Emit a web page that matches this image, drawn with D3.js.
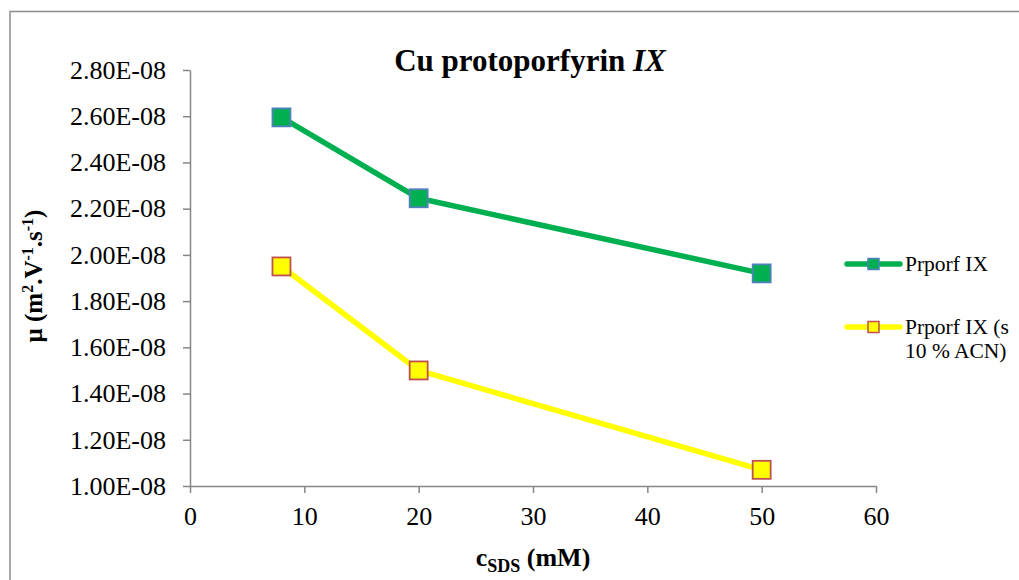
<!DOCTYPE html>
<html><head><meta charset="utf-8">
<script src="https://cdn.jsdelivr.net/npm/d3@7"></script>
<style>body{margin:0;background:#fff}svg{display:block}text{font-family:"Liberation Serif","Times New Roman",serif}</style>
</head><body>
<svg id="c" width="1019" height="580"></svg>
<script>
const xValues = [8, 20, 50];
const seriesGreen = [2.595e-8, 2.245e-8, 1.92e-8];
const seriesYellow = [1.95e-8, 1.50e-8, 1.07e-8];
const yTicks = [1.0e-8,1.2e-8,1.4e-8,1.6e-8,1.8e-8,2.0e-8,2.2e-8,2.4e-8,2.6e-8,2.8e-8];
const xTicks = [0,10,20,30,40,50,60];
const seriesNames = ["Prporf IX", "Prporf IX (s|10 % ACN)"];

const svg = d3.select("#c");
// outer chart border (top & left visible)
svg.append("path").attr("d","M10,1000V11.5H1019").attr("fill","none").attr("stroke","#8c8c8c").attr("stroke-width",1.5);

const x = d3.scaleLinear().domain([0,60]).range([190,876]);
const y = d3.scaleLinear().domain([1.0e-8,2.8e-8]).range([486,70]);

const fmt = v => (v*1e8).toFixed(2)+"E-08";
const gy = svg.append("g").attr("transform","translate(190,0)")
  .call(d3.axisLeft(y).tickValues(yTicks).tickFormat(fmt).tickSize(7).tickSizeOuter(0).tickPadding(17));
const gx = svg.append("g").attr("transform","translate(0,486)")
  .call(d3.axisBottom(x).tickValues(xTicks).tickSize(7).tickSizeOuter(0).tickPadding(14));
[gx,gy].forEach(g=>{
  g.selectAll("path,line").attr("stroke","#868686").attr("stroke-width",1.5);
  g.selectAll("text").attr("font-family","Liberation Serif").attr("font-size",26).attr("fill","#000");
});

const line = d3.line().x((d,i)=>x(xValues[i])).y(d=>y(d));
const series = [
  {vals: seriesGreen, stroke:"#00B050", fill:"#00B050", mstroke:"#4F81BD"},
  {vals: seriesYellow, stroke:"#FFFF00", fill:"#FFFF00", mstroke:"#C0504D"}
];
series.forEach(s=>{
  svg.append("path").datum(s.vals).attr("d",line).attr("fill","none")
    .attr("stroke",s.stroke).attr("stroke-width",5.5).attr("stroke-linejoin","round");
  svg.selectAll(null).data(s.vals).enter().append("rect")
    .attr("x",(d,i)=>x(xValues[i])-9).attr("y",d=>y(d)-9).attr("width",18).attr("height",18)
    .attr("fill",s.fill).attr("stroke",s.mstroke).attr("stroke-width",1.8);
});

// title
const t = svg.append("text").attr("x",530).attr("y",71).attr("text-anchor","middle")
  .attr("font-size",31).attr("font-weight","bold");
t.append("tspan").text("Cu protoporfyrin ");
t.append("tspan").attr("font-style","italic").text("IX");

// x label
const xl = svg.append("text").attr("x",533).attr("y",566).attr("text-anchor","middle")
  .attr("font-size",26).attr("font-weight","bold");
xl.append("tspan").text("c");
xl.append("tspan").attr("font-size",18).attr("dy",6).text("SDS");
xl.append("tspan").attr("dy",-6).text(" (mM)");

// y label
const yl = svg.append("text").attr("transform","translate(42,276) rotate(-90)").attr("text-anchor","middle")
  .attr("font-size",25).attr("font-weight","bold");
yl.append("tspan").text("μ (m");
yl.append("tspan").attr("font-size",16).attr("dy",-9).text("2");
yl.append("tspan").attr("dy",9).text(".V");
yl.append("tspan").attr("font-size",16).attr("dy",-9).text("-1");
yl.append("tspan").attr("dy",9).text(".s");
yl.append("tspan").attr("font-size",16).attr("dy",-9).text("-1");
yl.append("tspan").attr("dy",9).text(")");

// legend
const legY = [264, 327];
series.forEach((s,i)=>{
  svg.append("line").attr("x1",847).attr("x2",900).attr("y1",legY[i]).attr("y2",legY[i])
    .attr("stroke",s.stroke).attr("stroke-width",5.5).attr("stroke-linecap","round");
  svg.append("rect").attr("x",868).attr("y",legY[i]-5.5).attr("width",11).attr("height",11)
    .attr("fill",s.fill).attr("stroke",s.mstroke).attr("stroke-width",1.5);
  const lines = seriesNames[i].split("|");
  lines.forEach((ln,j)=>{
    svg.append("text").attr("x",905).attr("y",legY[i]+7+j*24).attr("font-size",21.5).text(ln);
  });
});
</script>
</body></html>
